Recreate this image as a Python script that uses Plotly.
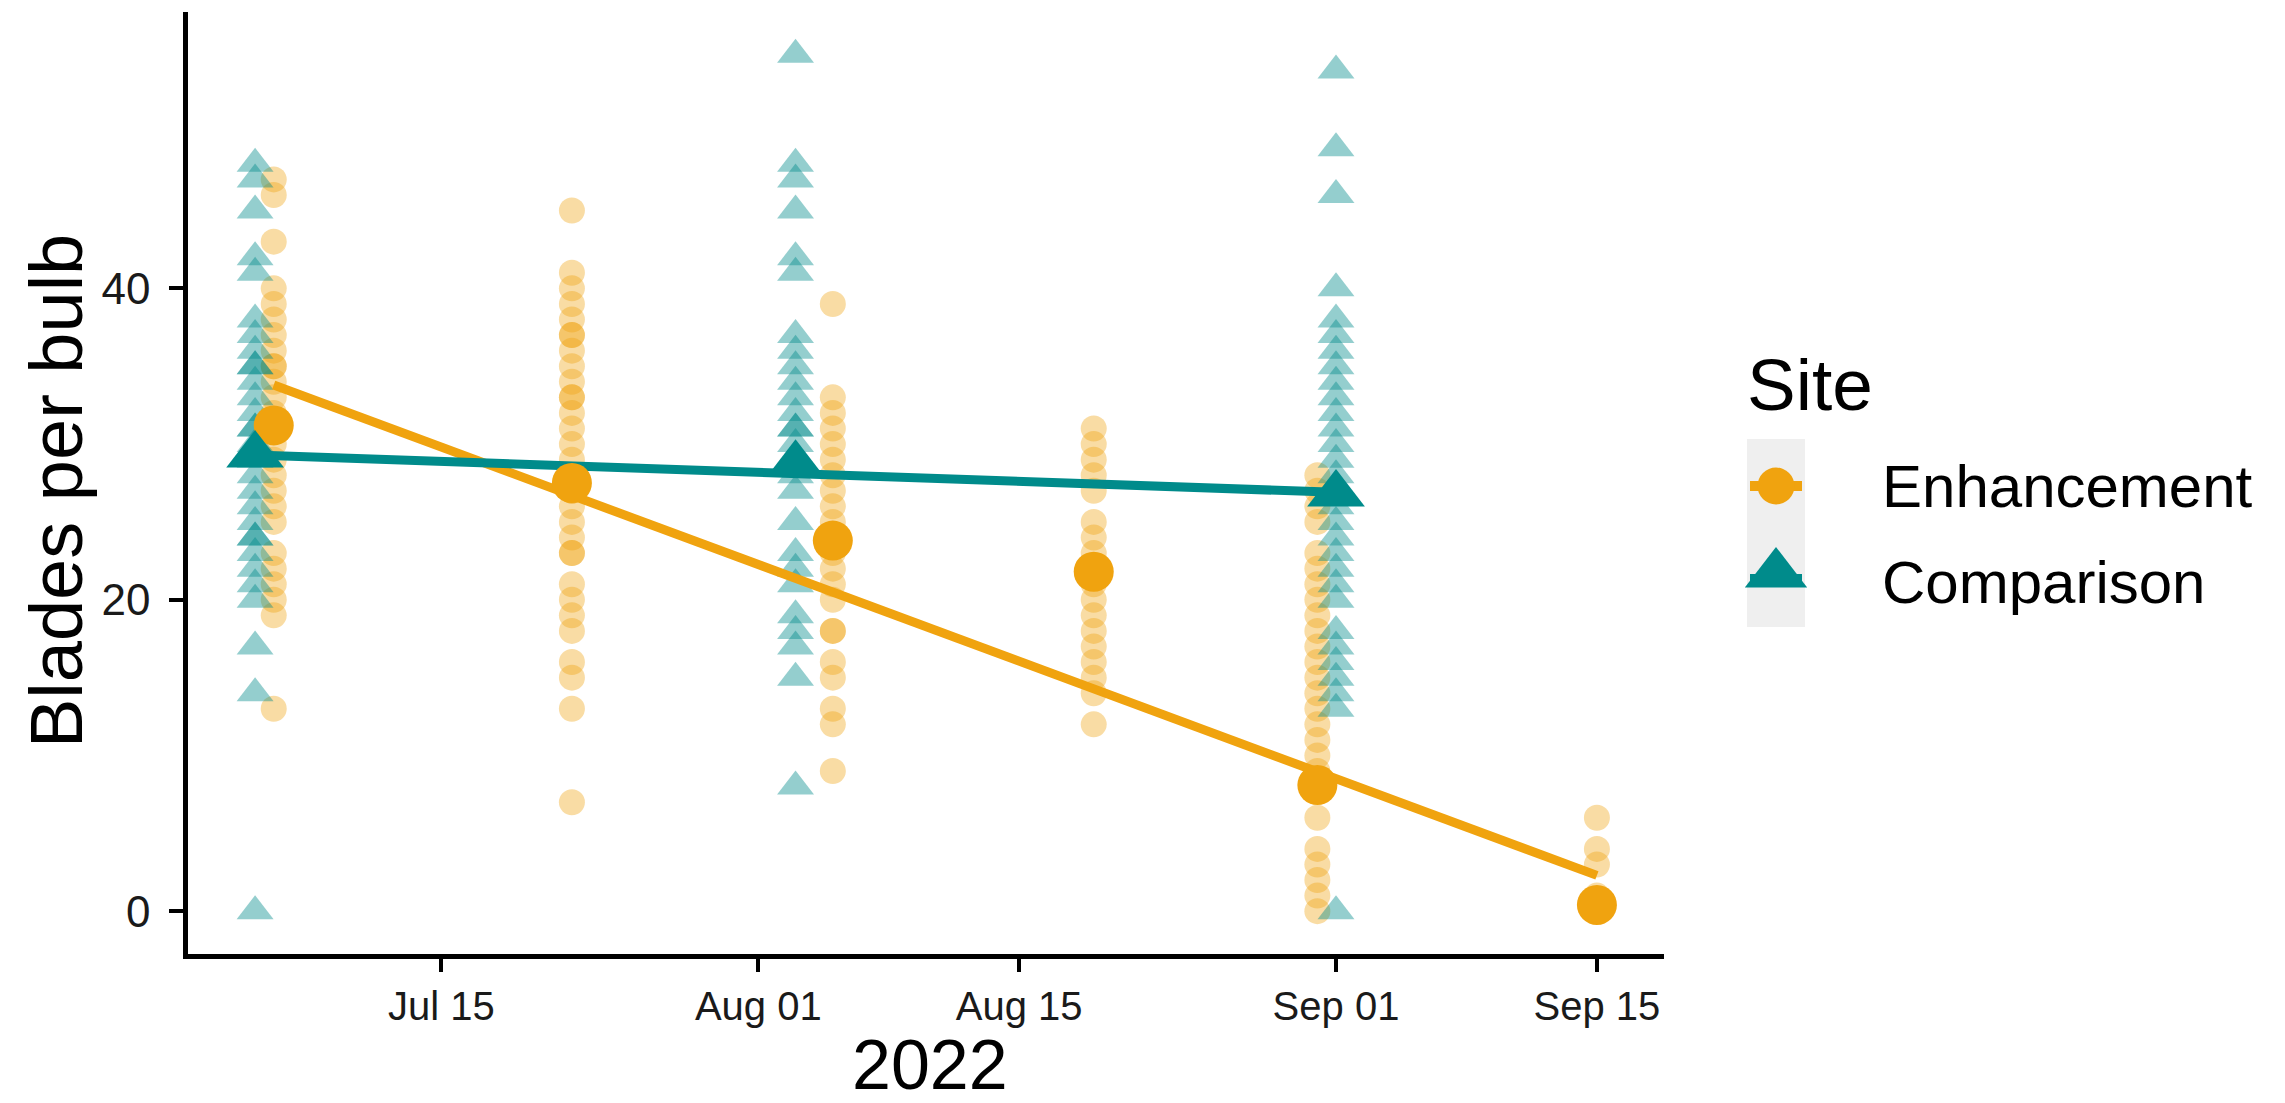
import plotly.graph_objects as go
import pandas as pd

# ---------------- data ----------------
enh_dates = ["2022-07-06", "2022-07-22", "2022-08-05", "2022-08-19", "2022-08-31", "2022-09-15"]
enh_raw = [
    [47, 46, 43, 40, 39, 38, 37, 36, 35, 35, 34, 33, 32, 31, 30, 29, 28, 27, 26, 25, 23, 22, 21, 20, 19, 13],
    [45, 41, 40, 39, 38, 37, 37, 36, 35, 34, 33, 33, 32, 31, 30, 29, 28, 27, 27, 26, 25, 24, 23, 23, 21, 20, 19, 18, 16, 15, 13, 7],
    [39, 33, 32, 31, 30, 29, 28, 27, 26, 25, 24, 23, 22, 21, 20, 18, 18, 16, 15, 13, 12, 9],
    [31, 30, 29, 28, 27, 25, 24, 23, 22, 21, 20, 19, 18, 17, 16, 15, 14, 12],
    [28, 27, 26, 25, 23, 22, 21, 20, 19, 18, 17, 16, 15, 14, 13, 12, 11, 10, 9, 8, 6, 4, 3, 2, 1, 0],
    [6, 4, 3, 1, 0, 0],
]
enh_means = [31.2, 27.5, 23.8, 21.8, 8.1, 0.4]

comp_dates = ["2022-07-05", "2022-08-03", "2022-09-01"]
comp_raw = [
    [48, 47, 45, 42, 41, 38, 37, 36, 35, 35, 34, 33, 32, 31, 31, 30, 29, 28, 27, 26, 25, 24, 24, 23, 22, 21, 20, 17, 14, 0],
    [55, 48, 47, 45, 42, 41, 37, 36, 35, 34, 33, 32, 31, 31, 30, 29, 28, 27, 25, 23, 22, 21, 19, 18, 17, 15, 8],
    [54, 49, 46, 40, 38, 37, 36, 35, 34, 33, 32, 31, 30, 29, 28, 27, 26, 25, 24, 23, 22, 21, 20, 18, 17, 16, 15, 14, 13, 0],
]
comp_means = [29.3, 28.7, 26.8]

enh_trend_dates = ["2022-07-06", "2022-09-15"]
enh_trend = [33.8, 2.3]
comp_trend_dates = ["2022-07-05", "2022-09-01"]
comp_trend = [29.3, 26.9]

x_tickvals = ["2022-07-15", "2022-08-01", "2022-08-15", "2022-09-01", "2022-09-15"]
x_ticktext = ["Jul 15", "Aug 01", "Aug 15", "Sep 01", "Sep 15"]
y_tickvals = [0, 20, 40]

series_names = ["Enhancement", "Comparison"]
site_title = "Site"
x_title = "2022"
y_title = "Blades per bulb"

# ---------------- styling ----------------
ORANGE = "#F0A30F"
TEAL = "#008B8B"
FONT = "Liberation Sans, Arial, sans-serif"
W, H = 2285, 1103
PL, PR, PT, PB = 180, 1656, 4, 946   # plot area in px

def flat(dates, groups):
    xs, ys = [], []
    for d, g in zip(dates, groups):
        xs += [d] * len(g)
        ys += g
    return xs, ys

ex, ey = flat(enh_dates, enh_raw)
cx, cy = flat(comp_dates, comp_raw)

fig = go.Figure()

fig.add_trace(go.Scatter(x=ex, y=ey, mode="markers", showlegend=False,
                         marker=dict(symbol="circle", size=26, color=ORANGE, opacity=0.38,
                                     line=dict(width=0))))
fig.add_trace(go.Scatter(x=cx, y=cy, mode="markers", showlegend=False,
                         marker=dict(symbol="triangle-up", size=32, color=TEAL, opacity=0.42,
                                     line=dict(width=0))))
fig.add_trace(go.Scatter(x=enh_trend_dates, y=enh_trend, mode="lines", showlegend=False,
                         line=dict(color=ORANGE, width=9)))
fig.add_trace(go.Scatter(x=comp_trend_dates, y=comp_trend, mode="lines", showlegend=False,
                         line=dict(color=TEAL, width=9)))
fig.add_trace(go.Scatter(x=enh_dates, y=enh_means, mode="markers", showlegend=False,
                         marker=dict(symbol="circle", size=40, color=ORANGE, line=dict(width=0))))
fig.add_trace(go.Scatter(x=comp_dates, y=comp_means, mode="markers", showlegend=False,
                         marker=dict(symbol="triangle-up", size=50, color=TEAL, line=dict(width=0))))

# axis ranges with ggplot-style 5% expansion from the data
all_dates = pd.to_datetime(ex + cx)
dmin, dmax = all_dates.min(), all_dates.max()
pad = (dmax - dmin) * 0.05
all_y = ey + cy
ypad = (max(all_y) - min(all_y)) * 0.05

# ---------------- legend (drawn in a pixel-space overlay axis) ----------------
KX0, KX1 = 1739, 1797
ROW_Y = [478, 571]
KXM = (KX0 + KX1) / 2
fig.add_trace(go.Scatter(x=[KX0 + 3, KX1 - 3], y=[ROW_Y[0]] * 2, mode="lines", xaxis="x2", yaxis="y2",
                         showlegend=False, hoverinfo="skip", line=dict(color=ORANGE, width=10)))
fig.add_trace(go.Scatter(x=[KXM], y=[ROW_Y[0]], mode="markers", xaxis="x2", yaxis="y2",
                         showlegend=False, hoverinfo="skip",
                         marker=dict(symbol="circle", size=37, color=ORANGE, line=dict(width=0))))
fig.add_trace(go.Scatter(x=[KX0 + 3, KX1 - 3], y=[ROW_Y[1]] * 2, mode="lines", xaxis="x2", yaxis="y2",
                         showlegend=False, hoverinfo="skip", line=dict(color=TEAL, width=10)))
fig.add_trace(go.Scatter(x=[KXM], y=[ROW_Y[1] - 5], mode="markers", xaxis="x2", yaxis="y2",
                         showlegend=False, hoverinfo="skip",
                         marker=dict(symbol="triangle-up", size=54, color=TEAL, line=dict(width=0))))

annotations = [
    dict(x=1737, y=376, xref="x2", yref="y2", text=site_title, showarrow=False, xanchor="left",
         yanchor="middle", font=dict(family=FONT, size=73, color="black")),
    dict(x=1872, y=ROW_Y[0], xref="x2", yref="y2", text=series_names[0], showarrow=False, xanchor="left",
         yanchor="middle", font=dict(family=FONT, size=60, color="black")),
    dict(x=1872, y=ROW_Y[1] + 3, xref="x2", yref="y2", text=series_names[1], showarrow=False, xanchor="left",
         yanchor="middle", font=dict(family=FONT, size=60, color="black")),
    # axis titles
    dict(x=(PL + PR) / 2 + 4, y=H - 5, xref="x2", yref="y2", text=x_title, showarrow=False, xanchor="center",
         yanchor="bottom", font=dict(family=FONT, size=70, color="black")),
    dict(x=48, y=483, xref="x2", yref="y2", text=y_title, showarrow=False, textangle=-90,
         xanchor="center", yanchor="middle", font=dict(family=FONT, size=74, color="black")),
]

shapes = [
    dict(type="rect", xref="x2", yref="y2", x0=KX0, x1=KX1, y0=431, y1=619,
         fillcolor="#EFEFEF", line=dict(width=0), layer="below"),
]

fig.update_layout(
    width=W, height=H,
    margin=dict(l=0, r=0, t=0, b=0),
    paper_bgcolor="white", plot_bgcolor="rgba(0,0,0,0)",
    font=dict(family=FONT, color="black"),
    showlegend=False,
    annotations=annotations,
    shapes=shapes,
    xaxis=dict(
        domain=[PL / W, PR / W], type="date",
        range=[dmin - pad, dmax + pad],
        tickvals=x_tickvals, ticktext=x_ticktext,
        tickfont=dict(family=FONT, size=40, color="#1a1a1a"),
        showgrid=False, zeroline=False,
        showline=True, linecolor="black", linewidth=4.5,
        ticks="outside", ticklen=13, tickwidth=3.5, tickcolor="black",
        anchor="y",
    ),
    yaxis=dict(
        domain=[(H - PB) / H, (H - PT) / H],
        range=[min(all_y) - ypad, max(all_y) + ypad],
        tickvals=y_tickvals,
        tickfont=dict(family=FONT, size=44, color="#1a1a1a"),
        showgrid=False, zeroline=False,
        showline=True, linecolor="black", linewidth=4.5,
        ticks="outside", ticklen=14, tickwidth=3.5, tickcolor="black",
        ticklabelstandoff=10,
        anchor="x",
    ),
    xaxis2=dict(domain=[0, 1], range=[0, W], visible=False, anchor="y2", fixedrange=True),
    yaxis2=dict(domain=[0, 1], range=[H, 0], visible=False, anchor="x2", fixedrange=True),
)

fig.write_html("out.html")
